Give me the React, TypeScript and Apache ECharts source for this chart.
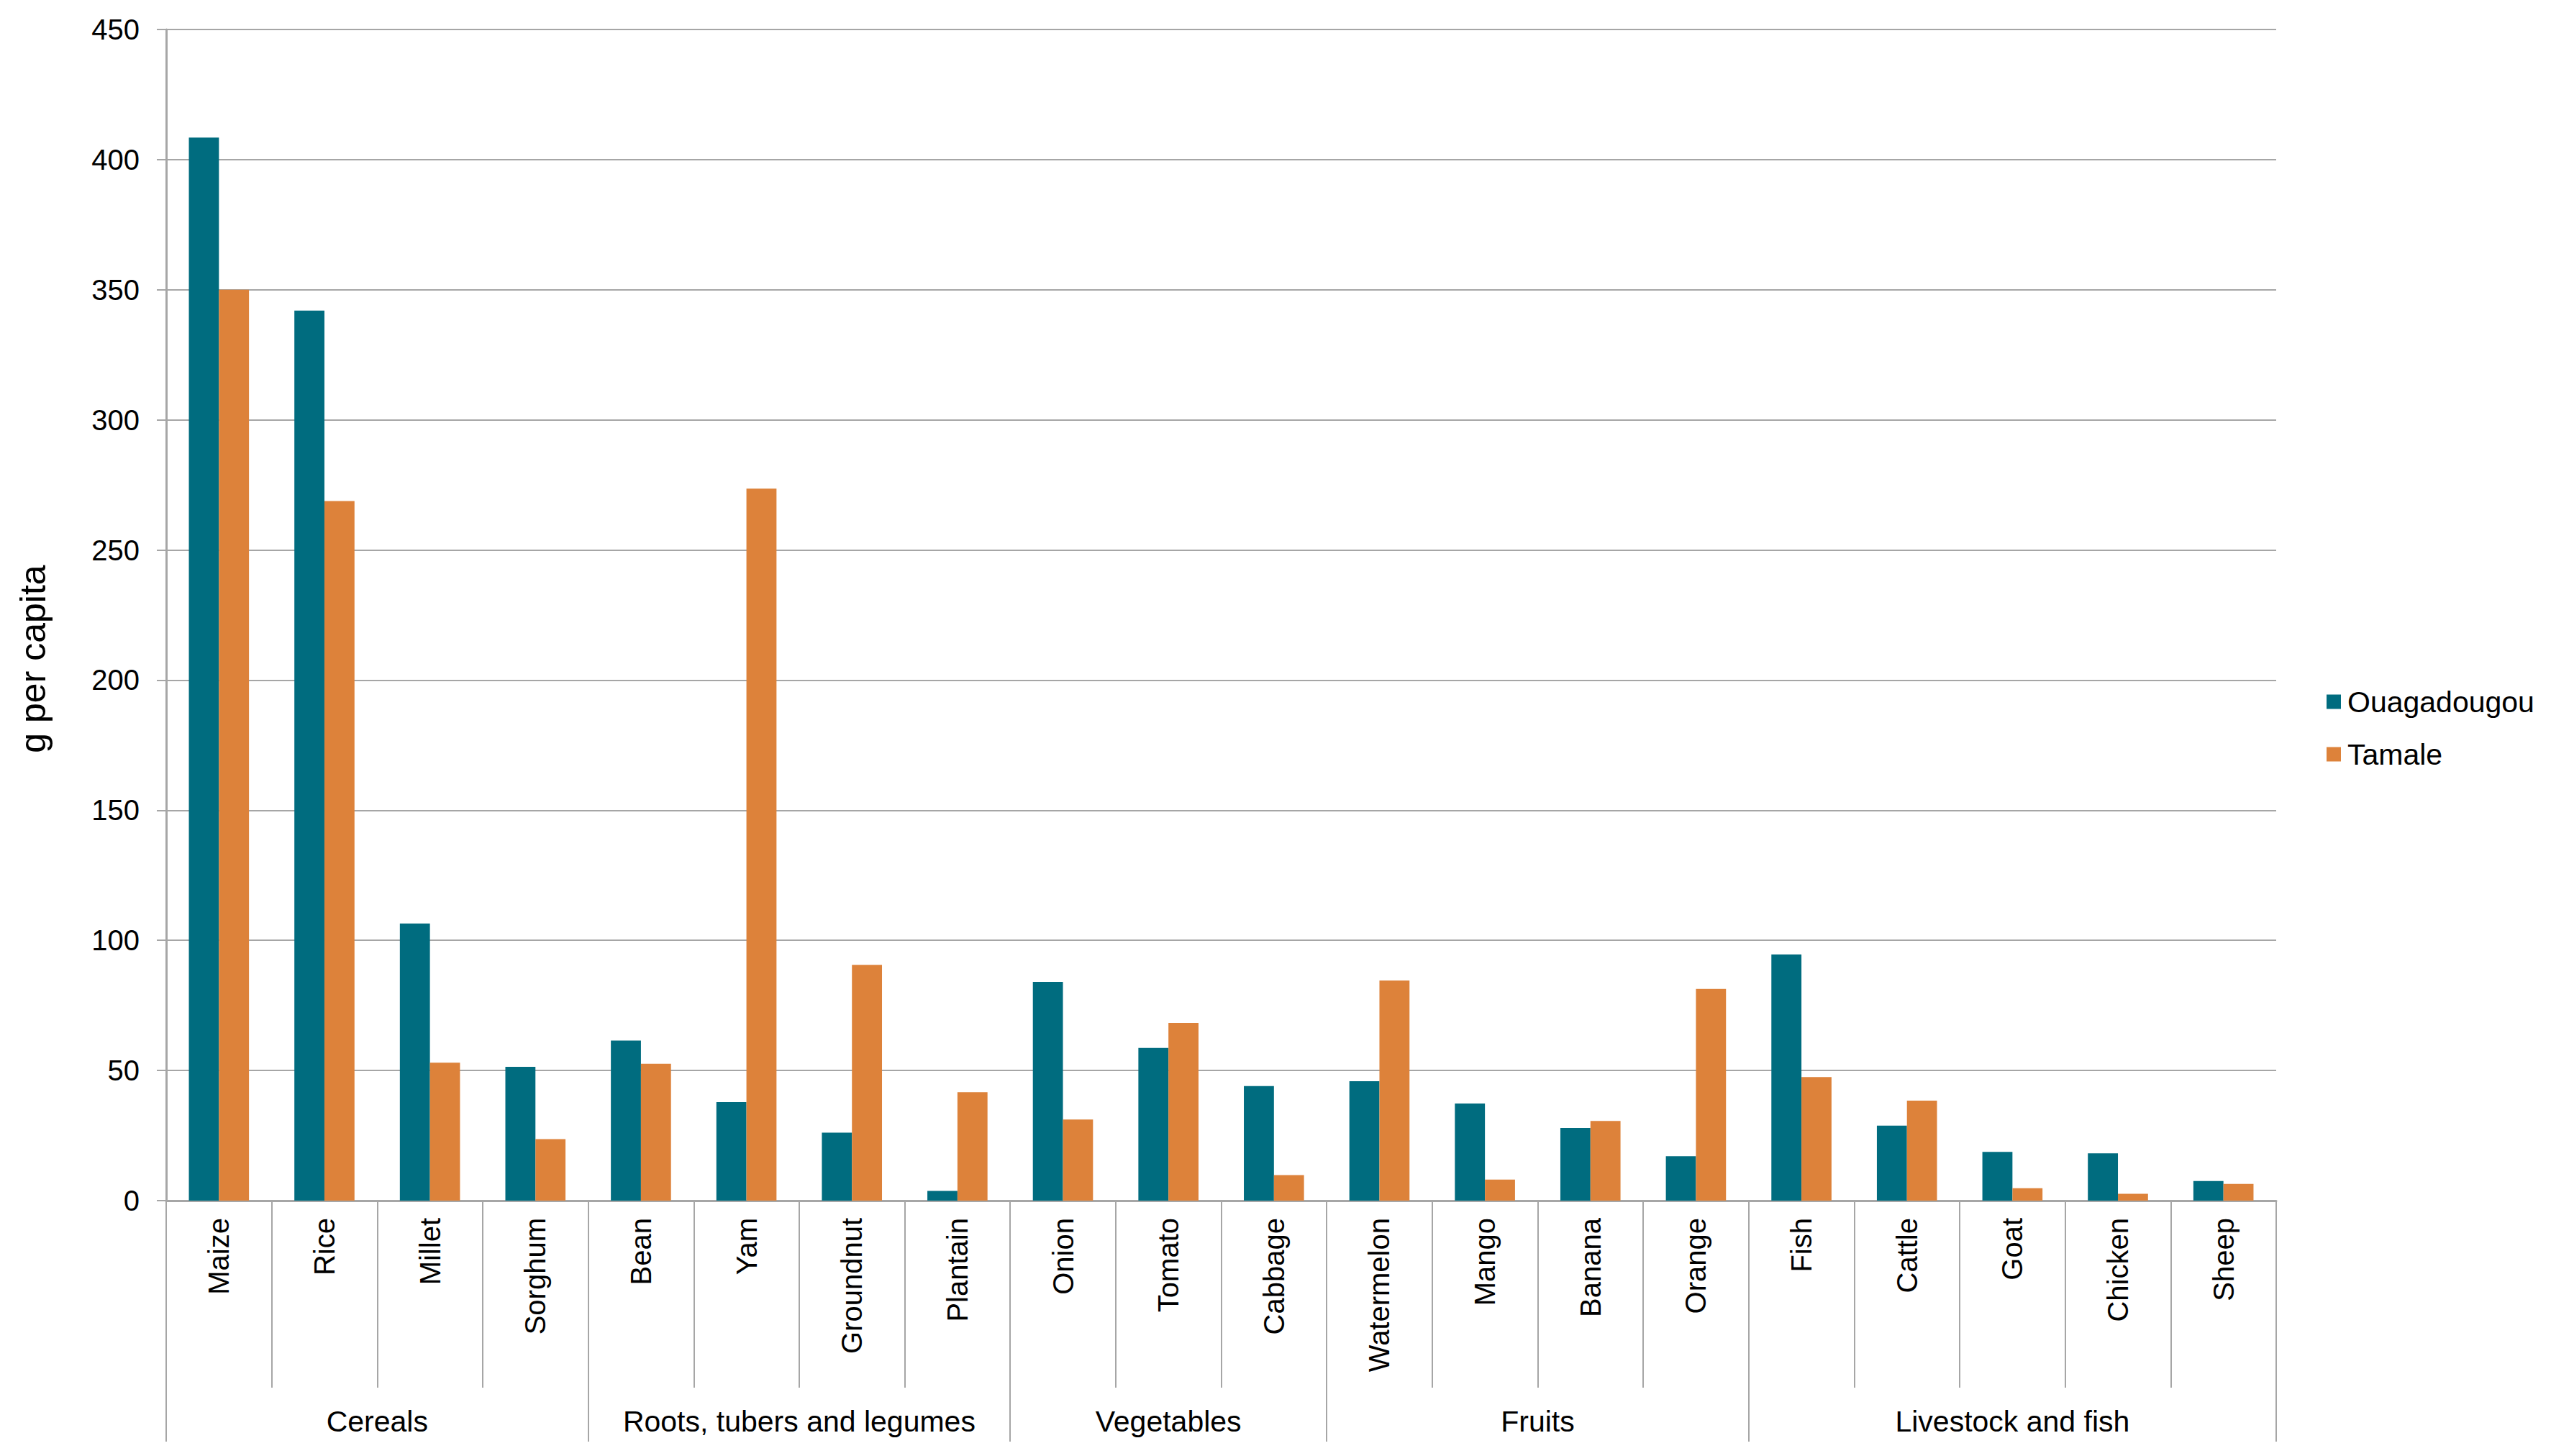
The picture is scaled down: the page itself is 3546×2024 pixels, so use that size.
import React, { useEffect, useRef } from "react";
import * as echarts from "echarts";

const items = [
  "Maize", "Rice", "Millet", "Sorghum",
  "Bean", "Yam", "Groundnut", "Plantain",
  "Onion", "Tomato", "Cabbage",
  "Watermelon", "Mango", "Banana", "Orange",
  "Fish", "Cattle", "Goat", "Chicken", "Sheep",
];
const ouagadougou = [
  408.5, 342, 106.5, 51.4,
  61.5, 37.9, 26.1, 3.7,
  84.0, 58.7, 44.0,
  45.9, 37.3, 27.9, 17.1,
  94.6, 28.8, 18.7, 18.2, 7.5,
];
const tamale = [
  350, 268.8, 53.0, 23.6,
  52.6, 273.6, 90.6, 41.7,
  31.2, 68.3, 9.8,
  84.6, 8.1, 30.6, 81.3,
  47.5, 38.4, 4.8, 2.6, 6.4,
];
const groups = ["Cereals", "Roots, tubers and legumes", "Vegetables", "Fruits", "Livestock and fish"];
const groupSizes = [4, 4, 3, 4, 5];
const yTicks = { min: 0, max: 450, interval: 50 };

const FONT = "'Liberation Sans', Arial, Helvetica, sans-serif";
const GREY = "#a6a6a6";

export default function App() {
  const ref = useRef<HTMLDivElement>(null);
  useEffect(() => {
    if (!ref.current) return;
    const chart = echarts.init(ref.current, undefined, { renderer: "svg" });
    const bounds: number[] = [0];
    const centers: number[] = [];
    groupSizes.forEach((s) => {
      const start = bounds[bounds.length - 1];
      centers.push(start + s / 2);
      bounds.push(start + s);
    });
    chart.setOption({
      animation: false,
      backgroundColor: "#ffffff",
      textStyle: { fontFamily: FONT },
      grid: { left: 231, right: 382, top: 41, bottom: 355, containLabel: false },
      legend: {
        orient: "vertical",
        left: 3229,
        top: 950,
        itemWidth: 20,
        itemHeight: 20,
        itemGap: 32,
        icon: "rect",
        textStyle: { fontSize: 41, color: "#000", fontFamily: FONT, padding: [0, 0, 0, 4] },
        data: ["Ouagadougou", "Tamale"],
      },
      xAxis: [
        {
          type: "category",
          data: items,
          position: "bottom",
          axisLine: { show: true, lineStyle: { color: GREY, width: 3 } },
          axisTick: { show: true, interval: 0, length: 260, alignWithLabel: false, lineStyle: { color: GREY, width: 2 } },
          axisLabel: { interval: 0, rotate: 90, fontSize: 40, margin: 24, color: "#000", fontFamily: FONT },
          splitLine: { show: false },
        },
        {
          type: "value",
          min: 0,
          max: items.length,
          position: "bottom",
          axisLine: { show: false },
          splitLine: { show: false },
          axisTick: { show: true, customValues: bounds, length: 335, lineStyle: { color: GREY, width: 2 } },
          axisLabel: {
            show: true,
            customValues: centers,
            margin: 286,
            fontSize: 41,
            color: "#000",
            fontFamily: FONT,
            formatter: (v: number) => {
              const i = centers.findIndex((c) => Math.abs(c - v) < 1e-6);
              return i >= 0 ? groups[i] : "";
            },
          },
        },
      ],
      yAxis: {
        type: "value",
        min: yTicks.min,
        max: yTicks.max,
        interval: yTicks.interval,
        name: "g per capita",
        nameLocation: "middle",
        nameRotate: 90,
        nameGap: 160,
        nameTextStyle: { fontSize: 50, color: "#000", fontFamily: FONT, padding: [0, 122, 0, 0] },
        axisLine: { show: true, lineStyle: { color: GREY, width: 3 } },
        axisTick: { show: true, length: 13, lineStyle: { color: GREY, width: 2 } },
        axisLabel: { fontSize: 40, margin: 37, color: "#000", fontFamily: FONT },
        splitLine: { show: true, lineStyle: { color: GREY, width: 2 } },
      },
      series: [
        {
          name: "Ouagadougou",
          type: "bar",
          data: ouagadougou,
          itemStyle: { color: "#006C7F" },
          barGap: "0%",
          barCategoryGap: "43%",
        },
        {
          name: "Tamale",
          type: "bar",
          data: tamale,
          itemStyle: { color: "#DD823A" },
          barGap: "0%",
          barCategoryGap: "43%",
        },
      ],
    });
    return () => chart.dispose();
  }, []);
  return (
    <div
      ref={ref}
      style={{ position: "absolute", left: 0, top: 0, width: 3546, height: 2024 }}
    />
  );
}
